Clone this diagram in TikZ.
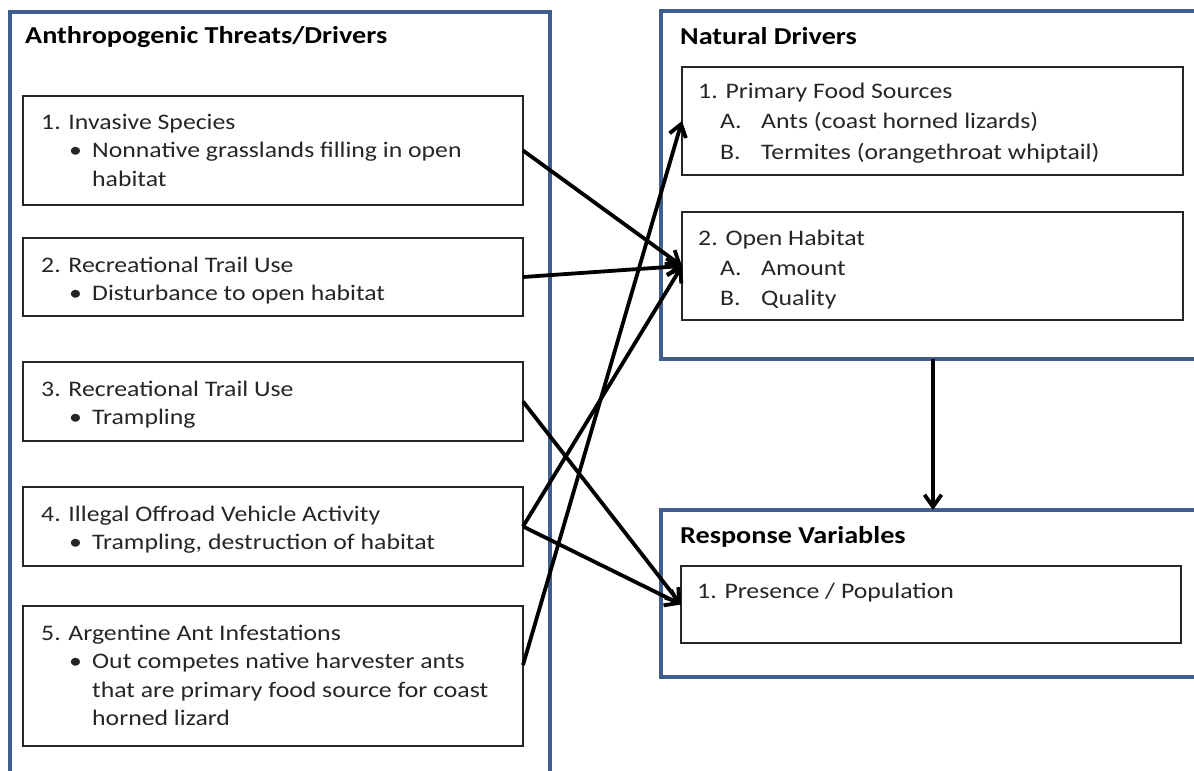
\documentclass[tikz,border=0pt]{standalone}
\usepackage{fontspec}
\setmainfont{Carlito}[FakeStretch=1.16]
\usetikzlibrary{arrows.meta}
\definecolor{frameblue}{HTML}{3F5E8C}
\newcommand{\bul}[1]{\hspace*{28pt}\makebox[23pt][l]{•}#1}
\newcommand{\cnt}[1]{\hspace*{51pt}#1}
\newcommand{\itm}[2]{\hspace*{22pt}\makebox[41pt][l]{#1}#2}
\tikzset{
 outerbox/.style={draw=frameblue, line width=4pt, rectangle, anchor=north west, inner sep=0pt, outer sep=0pt},
 innerbox/.style={draw=black!85, line width=1.7pt, rectangle, anchor=north west, inner sep=0pt, outer sep=0pt},
 ttl/.style={anchor=base west, inner sep=0pt, font=\fontsize{24.3}{29}\selectfont\bfseries},
 bodytext/.style={anchor=base west, inner sep=0pt, text=black!85, font=\fontsize{22.2}{28.5}\selectfont},
 arr/.style={line width=3.8pt, -{Straight Barb[length=12pt,width=17pt]}}
}
\begin{document}
\begin{tikzpicture}[x=1pt,y=-1pt]
\useasboundingbox (0,0) rectangle (1194,771);
\clip (0,0) rectangle (1194,771);
\fill[white] (0,0) rectangle (1194,771);
% outer frames
\node[outerbox, minimum width=540pt, minimum height=790pt] (anth) at (10,12) {};
\node[outerbox, minimum width=544pt, minimum height=348pt] (nat) at (661,11) {};
\node[outerbox, minimum width=544pt, minimum height=167pt] (resp) at (661,510) {};
% titles
\node[ttl] (tanth) at (25,43) {Anthropogenic Threats/Drivers};
\node[ttl] (tnat) at (680,44) {Natural Drivers};
\node[ttl] (tresp) at (680,543) {Response Variables};
% left inner boxes
\node[innerbox, minimum width=500pt, minimum height=109pt] (b1) at (23,96) {};
\node[innerbox, minimum width=500pt, minimum height=78pt] (b2) at (23,238) {};
\node[innerbox, minimum width=500pt, minimum height=79pt] (b3) at (23,362) {};
\node[innerbox, minimum width=500pt, minimum height=79pt] (b4) at (23,487) {};
\node[innerbox, minimum width=500pt, minimum height=140pt] (b5) at (23,606) {};
% right inner boxes
\node[innerbox, minimum width=501pt, minimum height=108pt] (n1) at (682,67) {};
\node[innerbox, minimum width=501pt, minimum height=108pt] (n2) at (682,212) {};
\node[innerbox, minimum width=500pt, minimum height=77pt] (r1) at (681,566) {};
% texts
\node[bodytext] (t1) at (41,129) {\parbox[t]{480pt}{1. Invasive Species\\\bul{Nonnative grasslands filling in open}\\\cnt{habitat}}};
\node[bodytext] (t2) at (41,272) {\parbox[t]{480pt}{2. Recreational Trail Use\\\bul{Disturbance to open habitat}}};
\node[bodytext] (t3) at (41,396) {\parbox[t]{480pt}{3. Recreational Trail Use\\\bul{Trampling}}};
\node[bodytext] (t4) at (41,521) {\parbox[t]{480pt}{4. Illegal Offroad Vehicle Activity\\\bul{Trampling, destruction of habitat}}};
\node[bodytext] (t5) at (41,640) {\parbox[t]{480pt}{5. Argentine Ant Infestations\\\bul{Out competes native harvester ants}\\\cnt{that are primary food source for coast}\\\cnt{horned lizard}}};
\node[bodytext, font=\fontsize{22.2}{30.8}\selectfont] (tn1) at (698,98) {\parbox[t]{480pt}{1. Primary Food Sources\\\itm{A.}{Ants (coast horned lizards)}\\\itm{B.}{Termites (orangethroat whiptail)}}};
\node[bodytext, font=\fontsize{22.2}{30.3}\selectfont] (tn2) at (698,245) {\parbox[t]{480pt}{2. Open Habitat\\\itm{A.}{Amount}\\\itm{B.}{Quality}}};
\node[bodytext] (tr1) at (697,598) {1. Presence / Population};
% connectors
\draw[arr] (b1.east) -- (n2.west);
\draw[arr] (b2.east) -- (n2.west);
\draw[arr] (b3.east) -- (r1.west);
\draw[arr] (b4.east) -- (n2.west);
\draw[arr] (b4.east) -- (r1.west);
\draw[arr] ([yshift=11pt]b5.east) -- (n1.west);
\draw[arr] (nat.south) -- (resp.north);
\end{tikzpicture}
\end{document}
